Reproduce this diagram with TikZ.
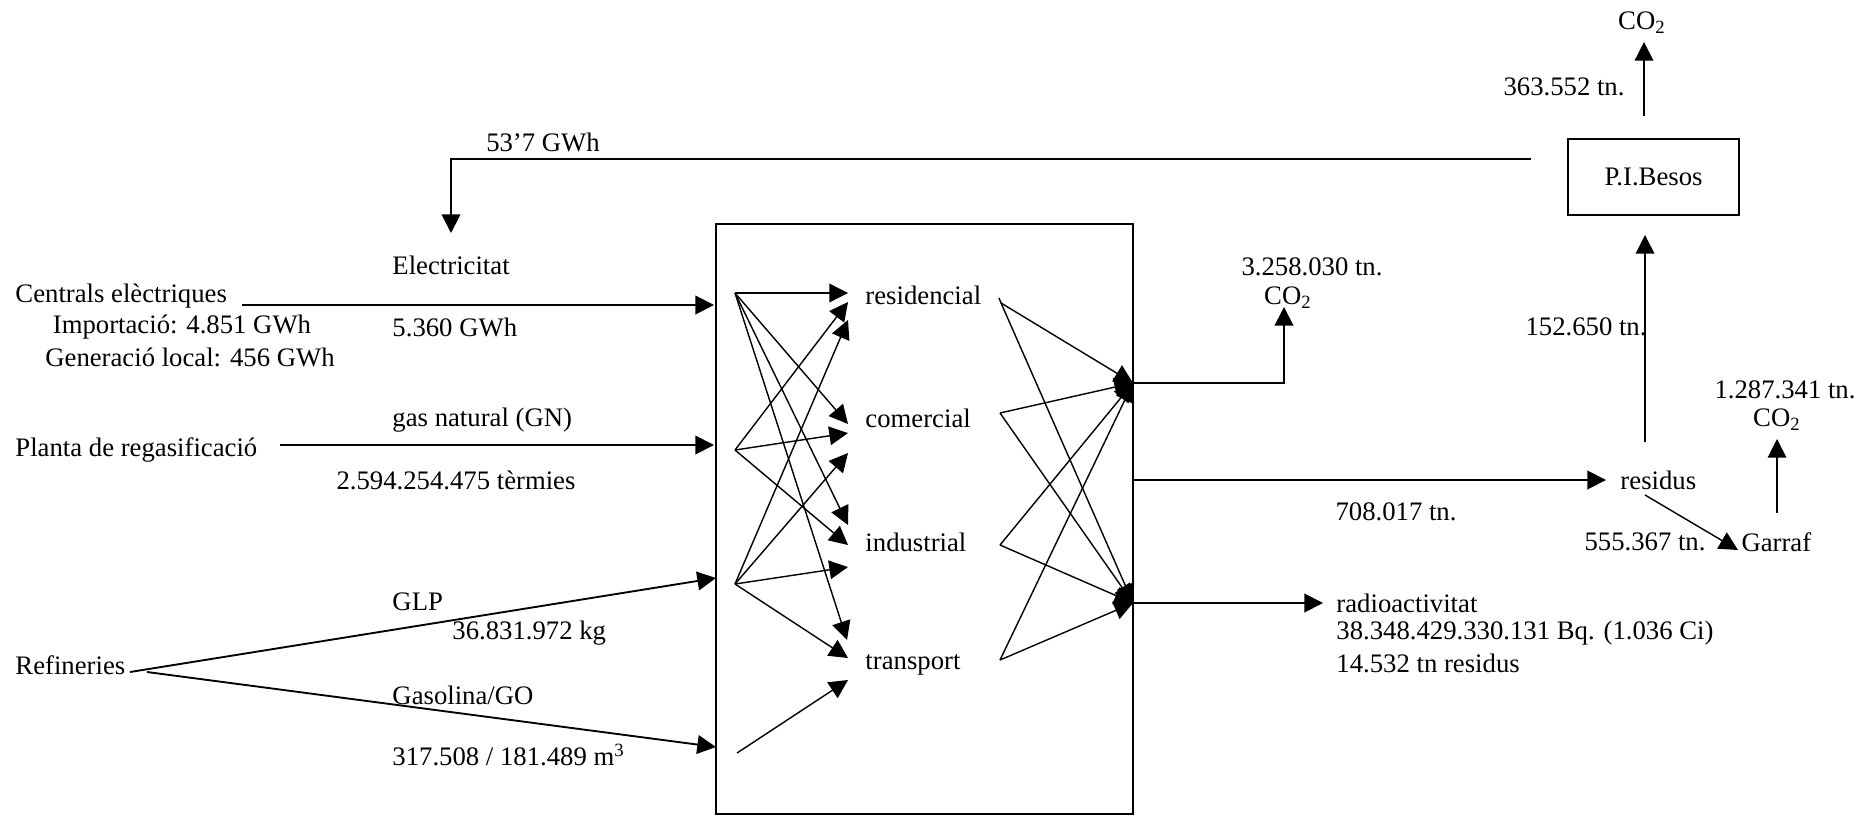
\documentclass[tikz,border=0pt]{standalone}
\usepackage{fontspec}
\setmainfont{Liberation Serif}
\usetikzlibrary{arrows.meta}
\newcommand{\lblsize}{\fontsize{11.4pt}{13.7pt}\selectfont}
\tikzset{
  >={Triangle[length=0.28cm,width=0.28cm]},
  lbl/.style={inner sep=0pt, font=\lblsize},
  flow/.style={->, line width=0.8pt},
  mix/.style={->, line width=0.6pt},
  plant/.style={draw, line width=0.6pt, minimum width=2.565cm, minimum height=1.14cm, font=\lblsize},
  city/.style={draw, line width=0.6pt, minimum width=6.255cm, minimum height=8.85cm},
}
\newcommand{\cotwo}{CO\textsubscript{2}}

\begin{document}
\begin{tikzpicture}[x=0.015cm, y=-0.015cm]
  \useasboundingbox (0,0) rectangle (1872,817);
  % boxes
  \node[city]  (city)  at (924.5,519) {};
  \node[plant] (besos) at (1653.5,177) {P.I.Besos};

  % sources on the left
  \node[lbl, anchor=west] (centrals)   at (15,296)  {Centrals elèctriques};
  \node[lbl]              (importacio) at (182,327) {Importació: 4.851 GWh};
  \node[lbl]              (generacio)  at (190,357) {Generació local: 456 GWh};
  \node[lbl, anchor=west] (planta)     at (15,450)  {Planta de regasificació};
  \node[lbl, anchor=west] (refineries) at (15,665)  {Refineries};

  \node[lbl, anchor=west] (electricitat) at (392,265) {Electricitat};
  \node[lbl, anchor=west] (gwhA)         at (392,327) {5.360 GWh};
  \node[lbl, anchor=west] (gasnat)       at (392,420) {gas natural (GN)};
  \node[lbl]              (termies)      at (456,480) {2.594.254.475 tèrmies};
  \node[lbl, anchor=west] (glp)          at (392,602) {GLP};
  \node[lbl, anchor=west] (kg)           at (452,633) {36.831.972 kg};
  \node[lbl, anchor=west] (gasolina)     at (392,695) {Gasolina/GO};
  \node[lbl, anchor=west] (mcub)         at (392,755) {317.508 / 181.489 m\textsuperscript{3}};
  \node[lbl]              (gwhB)         at (543,142) {53’7 GWh};

  % sectors
  \node[lbl, anchor=west] (residencial) at (865,295) {residencial};
  \node[lbl, anchor=west] (comercial)   at (865,418) {comercial};
  \node[lbl, anchor=west] (industrial)  at (865,542) {industrial};
  \node[lbl, anchor=west] (transport)   at (865,665) {transport};

  % outputs
  \node[lbl] (tnA)   at (1312,267) {3.258.030 tn.};
  \node[lbl] (co2A)  at (1288,298) {\cotwo};
  \node[lbl] (co2B)  at (1642,23)  {\cotwo};
  \node[lbl] (tnB)   at (1564,87)  {363.552 tn.};
  \node[lbl] (tnC)   at (1586,327) {152.650 tn.};
  \node[lbl] (tnD)   at (1785,390) {1.287.341 tn.};
  \node[lbl] (co2D)  at (1777,420) {\cotwo};
  \node[lbl, anchor=west] (residus) at (1620,480) {residus};
  \node[lbl] (tnE)   at (1396,512) {708.017 tn.};
  \node[lbl] (tnF)   at (1645,542) {555.367 tn.};
  \node[lbl, anchor=west] (garraf)  at (1741,542) {Garraf};
  \node[lbl, anchor=west] (radio)   at (1336,603) {radioactivitat};
  \node[lbl, anchor=west] (bq)      at (1336,633) {38.348.429.330.131 Bq. (1.036 Ci)};
  \node[lbl, anchor=west] (tnres)   at (1336,663) {14.532 tn residus};

  % connection points
  \coordinate (eOut) at (242,305);  \coordinate (eIn) at (714,305);
  \coordinate (gOut) at (280,445);  \coordinate (gIn) at (714,445);
  \coordinate (lOut) at (130,672);  \coordinate (lIn) at (716,578);
  \coordinate (sOut) at (147,672);  \coordinate (sIn) at (716,747);
  \coordinate (back) at (1531,159); \coordinate (backTip) at (451,233);

  \coordinate (e) at (735,293); \coordinate (g) at (735,450);
  \coordinate (l) at (735,584); \coordinate (s) at (737,753);
  \coordinate (r1) at (848,293); \coordinate (r2) at (848,302); \coordinate (r3) at (848,320);
  \coordinate (c1) at (848,424); \coordinate (c2) at (848,433); \coordinate (c3) at (848,453);
  \coordinate (i1) at (848,525); \coordinate (i2) at (848,545); \coordinate (i3) at (848,567);
  \coordinate (t1) at (847,640); \coordinate (t2) at (848,658); \coordinate (t3) at (848,680);

  \coordinate (rs) at (1001,303); \coordinate (cs) at (1000,413);
  \coordinate (is) at (1000,545); \coordinate (ts) at (1000,660);
  \coordinate (up) at (1133,383); \coordinate (dn) at (1133,603);
  \coordinate (mid) at (1133,480);

  \coordinate (co2ATip) at (1284,307);
  \coordinate (resTip)  at (1606,480);
  \coordinate (radTip)  at (1323,603);
  \coordinate (resUp)   at (1645,442); \coordinate (besosIn) at (1645,235);
  \coordinate (resDn)   at (1645,495); \coordinate (garrafIn) at (1738,550);
  \coordinate (garUp)   at (1777,513); \coordinate (co2DTip) at (1777,439);
  \coordinate (besosUp) at (1644,116); \coordinate (co2BTip) at (1644,42);

  % inputs
  \draw[flow] (eOut) -- (eIn);
  \draw[flow] (gOut) -- (gIn);
  \draw[flow] (lOut) -- (lIn);
  \draw[flow] (sOut) -- (sIn);
  \draw[flow] (back) -| (backTip);

  % distribution to sectors
  \path[mix]
    (e) edge (r1) edge (c1) edge (i1) edge (t1)
    (g) edge (r2) edge (c2) edge (i2)
    (l) edge (r3) edge (c3) edge (i3) edge (t2)
    (s) edge (t3);
  \draw[line width=0.6pt] (999,298) -- (rs);
  \path[mix]
    (rs) edge (up) edge (dn)
    (cs) edge (up) edge (dn)
    (is) edge (up) edge (dn)
    (ts) edge (up) edge (dn);

  % outputs
  \draw[flow] (up) -| (co2ATip);
  \draw[flow] (mid) -- (resTip);
  \draw[flow] (dn) -- (radTip);
  \draw[mix] (resUp) -- (besosIn);
  \draw[mix] (resDn) -- (garrafIn);
  \draw[mix] (garUp) -- (co2DTip);
  \draw[mix] (besosUp) -- (co2BTip);
\end{tikzpicture}
\end{document}
